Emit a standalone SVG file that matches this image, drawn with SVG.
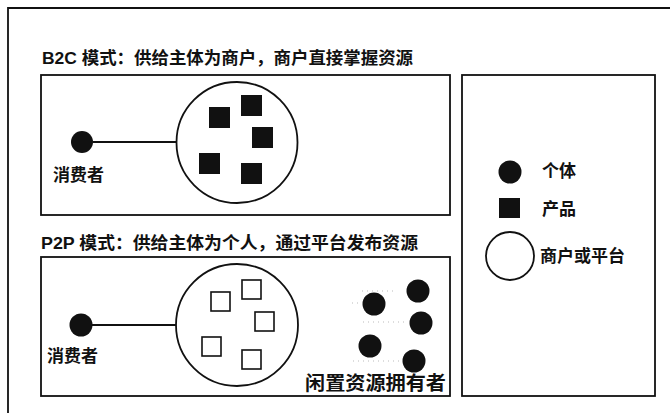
<svg xmlns="http://www.w3.org/2000/svg" width="670" height="413" viewBox="0 0 670 413">
<style>
.frame{fill:none;stroke:#111;stroke-width:1.8}
.t{font-family:"Liberation Sans","Noto Sans CJK SC",sans-serif;font-weight:bold;fill:#111}
.title{font-size:17px}
.lbl{font-size:17px}
.dot{fill:#111}
.sq{fill:#111}
.hsq{fill:#fff;stroke:#111;stroke-width:1.6}
.big{fill:#fff;stroke:#111;stroke-width:1.8}
.conn{stroke:#111;stroke-width:1.8;fill:none}
.faint{stroke:#bbb;stroke-width:1;stroke-dasharray:1 4;fill:none}
</style>
<rect width="670" height="413" fill="#fff"/>
<path class="frame" d="M8,413 V8 H670"/>

<g id="b2c">
<text class="t title" x="42" y="64" textLength="371" lengthAdjust="spacingAndGlyphs">B2C 模式：供给主体为商户，商户直接掌握资源</text>
<rect class="frame" x="41" y="75" width="409" height="140"/>
</g>
<g id="b2c-consumer">
<circle class="dot" cx="82" cy="142" r="11"/>
<text class="t lbl" x="53" y="181">消费者</text>
</g>
<g id="b2c-merchant">
<circle class="big" cx="237" cy="142.5" r="60.5"/>
<rect class="sq" x="209" y="107" width="21" height="21"/>
<rect class="sq" x="241" y="95" width="21" height="21"/>
<rect class="sq" x="252" y="127" width="21" height="21"/>
<rect class="sq" x="199" y="153" width="21" height="21"/>
<rect class="sq" x="241" y="163" width="21" height="21"/>
</g>

<g id="p2p">
<text class="t title" x="41" y="249" textLength="377" lengthAdjust="spacingAndGlyphs">P2P 模式：供给主体为个人，通过平台发布资源</text>
<rect class="frame" x="41" y="257" width="409" height="139"/>
</g>
<g id="p2p-consumer">
<circle class="dot" cx="81" cy="325" r="11.5"/>
<text class="t lbl" x="47" y="362">消费者</text>
</g>
<g id="p2p-platform">
<circle class="big" cx="237" cy="325" r="61"/>
<rect class="hsq" x="211" y="292" width="19" height="19"/>
<rect class="hsq" x="242" y="280" width="19" height="19"/>
<rect class="hsq" x="255" y="312" width="19" height="19"/>
<rect class="hsq" x="202" y="337" width="19" height="19"/>
<rect class="hsq" x="242" y="350" width="19" height="19"/>
</g>
<g id="p2p-owners">
<circle class="dot" cx="374" cy="304" r="11.5"/>
<circle class="dot" cx="418" cy="291" r="11.5"/>
<circle class="dot" cx="421" cy="323" r="11.5"/>
<circle class="dot" cx="370" cy="346" r="11.5"/>
<circle class="dot" cx="414" cy="361" r="11.5"/>
<text class="t" style="font-size:19px" x="305" y="390" textLength="141" lengthAdjust="spacingAndGlyphs">闲置资源拥有者</text>
</g>

<g id="legend">
<rect class="frame" x="462" y="75" width="193" height="321"/>
<circle class="dot" cx="510" cy="172" r="11.5"/>
<text class="t lbl" x="542" y="177">个体</text>
<rect class="sq" x="499" y="198" width="21" height="20"/>
<text class="t lbl" x="542" y="215">产品</text>
<circle class="big" cx="510" cy="256" r="24"/>
<text class="t lbl" x="540" y="262">商户或平台</text>
</g>

<g id="connectors">
<line class="conn" x1="93" y1="142" x2="176.5" y2="142"/>
<line class="conn" x1="92" y1="325" x2="176" y2="325"/>
<line class="faint" x1="362" y1="291" x2="394" y2="291"/>
<line class="faint" x1="352" y1="303" x2="361" y2="303"/>
<line class="faint" x1="363" y1="322" x2="408" y2="322"/>
<line class="faint" x1="353" y1="361" x2="401" y2="361"/>
</g>
</svg>
